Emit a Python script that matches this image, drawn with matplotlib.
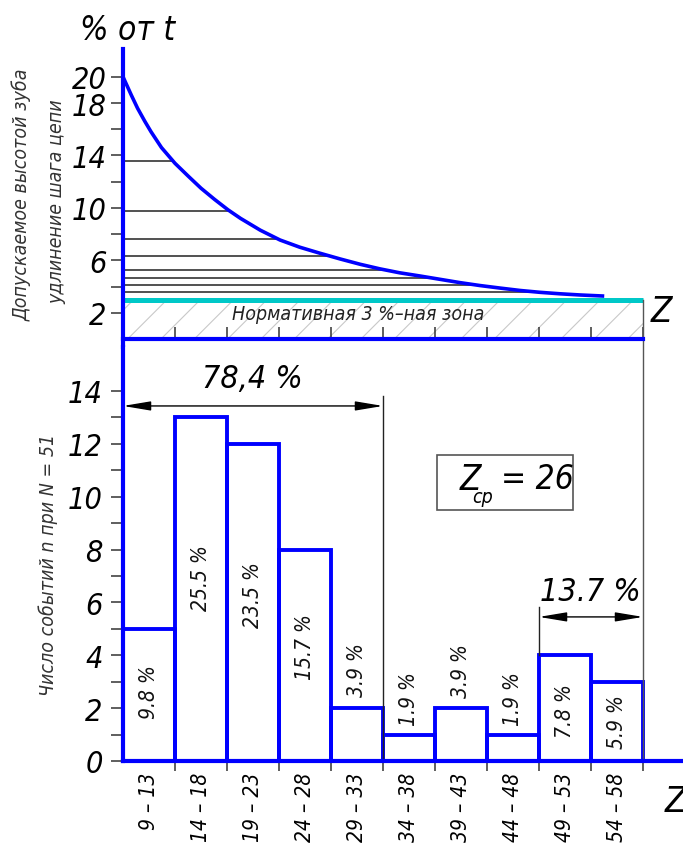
import numpy as np
import matplotlib
matplotlib.use("Agg")
import matplotlib.pyplot as plt

# --- data ---
# upper chart: allowable elongation (% of pitch t) vs number of teeth Z
curve_z = [8.5, 9.3, 9.9, 10.6, 11.2, 12.2, 13.5, 14.8, 16.0, 17.3, 18.6,
           19.8, 21.7, 23.6, 25.5, 27.4, 29.4, 31.3, 33.2, 35.1, 37.1, 39.0,
           40.9, 42.8, 44.8, 46.7, 48.6, 50.5, 52.4, 54.6]
curve_pct = [20.0, 18.6, 17.6, 16.6, 15.8, 14.6, 13.4, 12.4, 11.5, 10.65, 9.85,
             9.2, 8.3, 7.55, 7.0, 6.55, 6.1, 5.7, 5.35, 5.05, 4.8, 4.55,
             4.3, 4.08, 3.88, 3.7, 3.56, 3.45, 3.36, 3.28]
hline_levels = [13.6, 9.8, 7.6, 6.3, 5.3, 4.65, 4.1, 3.6]
norm_zone = 3.0

# lower chart: histogram of events, N = 51
bin_edges = [8.5, 13.5, 18.5, 23.5, 28.5, 33.5, 38.5, 43.5, 48.5, 53.5, 58.5]
bin_labels = ["9 – 13", "14 – 18", "19 – 23", "24 – 28", "29 – 33",
              "34 – 38", "39 – 43", "44 – 48", "49 – 53", "54 – 58"]
counts = [5, 13, 12, 8, 2, 1, 2, 1, 4, 3]
pct_labels = ["9.8 %", "25.5 %", "23.5 %", "15.7 %", "3.9 %",
              "1.9 %", "3.9 %", "1.9 %", "7.8 %", "5.9 %"]
pct_label_y = [2.65, 6.97, 6.33, 4.36, 3.48, 2.39, 3.45, 2.39, 1.93, 1.52]

BLUE = "#0000ff"
CYAN = "#00c8c8"
plt.rcParams['font.family'] = ['DejaVu Sans']
plt.rcParams['font.stretch'] = 'condensed'
plt.rcParams['font.style'] = 'oblique'
plt.rcParams['hatch.linewidth'] = 0.8

W, H = 683, 845
fig = plt.figure(figsize=(W / 100, H / 100), dpi=100)

x_right = 8.5 + (W - 123) / 10.4
ax1 = fig.add_axes([123 / W, 1 - 348 / H, (W - 123) / W, (348 - 45) / H])
ax2 = fig.add_axes([123 / W, 0, (W - 123) / W, (H - 348) / H])

# ---------- upper chart ----------
ax1.set_xlim(8.5, x_right)
ax1.set_ylim(-0.61, 22.5)
for s in ['top', 'right']:
    ax1.spines[s].set_visible(False)
ax1.spines['left'].set_color(BLUE)
ax1.spines['left'].set_linewidth(3)
ax1.spines['left'].set_bounds(-0.61, 22.1)
ax1.spines['bottom'].set_position(('data', 0))
ax1.spines['bottom'].set_color(BLUE)
ax1.spines['bottom'].set_linewidth(3)
ax1.spines['bottom'].set_bounds(8.5, 58.5)

ticks = list(range(2, 21, 2))
shown = {2, 6, 10, 14, 18, 20}
ax1.set_yticks(ticks, [str(t) if t in shown else "" for t in ticks])
ax1.tick_params(axis='y', direction='out', length=8.6, width=1.1, color='#333333',
                labelsize=22, pad=3)
ax1.set_xticks(bin_edges[1:], [""] * 10)
ax1.tick_params(axis='x', direction='in', length=8.6, width=1.1, color='#333333')

ax1.fill_between([8.5, 58.5], 0, norm_zone, facecolor='none', hatch='/',
                 edgecolor='#c8c8c8', linewidth=0)
ax1.plot([8.5, 58.5], [norm_zone, norm_zone], color=CYAN, lw=3.6, solid_capstyle='butt')

# horizontal hatching lines from the axis to the curve
rz = curve_z[::-1]
rp = curve_pct[::-1]
for lv in hline_levels:
    z_end = np.interp(lv, rp, rz)
    ax1.plot([8.5, z_end], [lv, lv], color='#222222', lw=1.1)

ax1.plot(curve_z, curve_pct, color=BLUE, lw=2.6, solid_joinstyle='round')
ax1.plot([58.5, 58.5], [-0.61, norm_zone], color='#555555', lw=1)

ax1.text(31.1, 1.95, "Нормативная 3 %–ная зона", fontsize=14, ha='center',
         va='center', color='#222222')
ax1.text(60.3, 2.1, "Z", fontsize=25, ha='center', va='center')

fig.text(80 / W, 1 - 30 / H, "% от t", fontsize=24, ha='left', va='center')
fig.text(22 / W, 1 - 195 / H, "Допускаемое высотой зуба", rotation=90,
         fontsize=14, ha='center', va='center', color='#333333')
fig.text(57 / W, 1 - 202 / H, "удлинение шага цепи", rotation=90,
         fontsize=14, ha='center', va='center', color='#333333')

# ---------- lower chart ----------
ax2.set_xlim(8.5, x_right)
ax2.set_ylim(-3.14, 15.66)
for s in ['top', 'right']:
    ax2.spines[s].set_visible(False)
ax2.spines['left'].set_color(BLUE)
ax2.spines['left'].set_linewidth(3)
ax2.spines['left'].set_bounds(0, 15.66)
ax2.spines['bottom'].set_position(('data', 0))
ax2.spines['bottom'].set_color(BLUE)
ax2.spines['bottom'].set_linewidth(3)

ax2.set_yticks(range(0, 15, 2))
ax2.set_yticks(range(1, 15, 2), minor=True)
ax2.tick_params(axis='y', which='both', direction='out', length=8.6, width=1.1,
                color='#333333', labelsize=22, pad=6)

centers = [(a + b) / 2 for a, b in zip(bin_edges[:-1], bin_edges[1:])]
ax2.set_xticks(bin_edges[1:], [""] * 10)
ax2.tick_params(axis='x', which='major', direction='out', length=7.5, width=1.1,
                color='#333333')
ax2.set_xticks(centers, bin_labels, minor=True)
ax2.tick_params(axis='x', which='minor', length=0, labelsize=15, pad=8,
                labelrotation=90)

ax2.bar(bin_edges[:-1], counts, width=5, align='edge', fill=False,
        edgecolor=BLUE, linewidth=2.8)

for xc, yc, s in zip(centers, pct_label_y, pct_labels):
    ax2.text(xc, yc, s, rotation=90, fontsize=15, ha='center', va='center',
             color='#111111')

arrow = dict(arrowstyle='<|-|>,head_length=1.2,head_width=0.2', color='black',
             lw=1, mutation_scale=14, shrinkA=0, shrinkB=0)

# dimension 78,4 %
ax2.plot([33.5, 33.5], [0, 13.8], color='#222222', lw=1)
ax2.annotate("", xy=(8.5, 13.43), xytext=(33.5, 13.43), arrowprops=arrow)
ax2.text(20.9, 14.45, "78,4 %", fontsize=23, ha='center', va='center')

# dimension 13.7 %
ax2.plot([48.5, 48.5], [counts[8], 5.83], color='#222222', lw=1)
ax2.plot([58.5, 58.5], [0, 15.66], color='#555555', lw=1)
ax2.annotate("", xy=(48.5, 5.45), xytext=(58.5, 5.45), arrowprops=arrow)
ax2.text(53.4, 6.43, "13.7 %", fontsize=23, ha='center', va='center')

# Z_cp box
ax2.add_patch(plt.Rectangle((38.7, 9.5), 13.1, 2.08, fill=False,
                            edgecolor='#555555', lw=1.2))
ax2.text(41.9, 10.67, "Z", fontsize=25, ha='center', va='center')
ax2.text(43.1, 10.0, "ср", fontsize=14, ha='center', va='center')
ax2.text(44.8, 10.67, "= 26", fontsize=24, ha='left', va='center')

ax2.text(60.6, -1.51, "Z", fontsize=25, ha='left', va='center')

fig.text(48 / W, 1 - 565 / H, "Число событий n при N = 51", rotation=90,
         fontsize=14, ha='center', va='center', color='#333333')

fig.savefig("out.png", dpi=100)
